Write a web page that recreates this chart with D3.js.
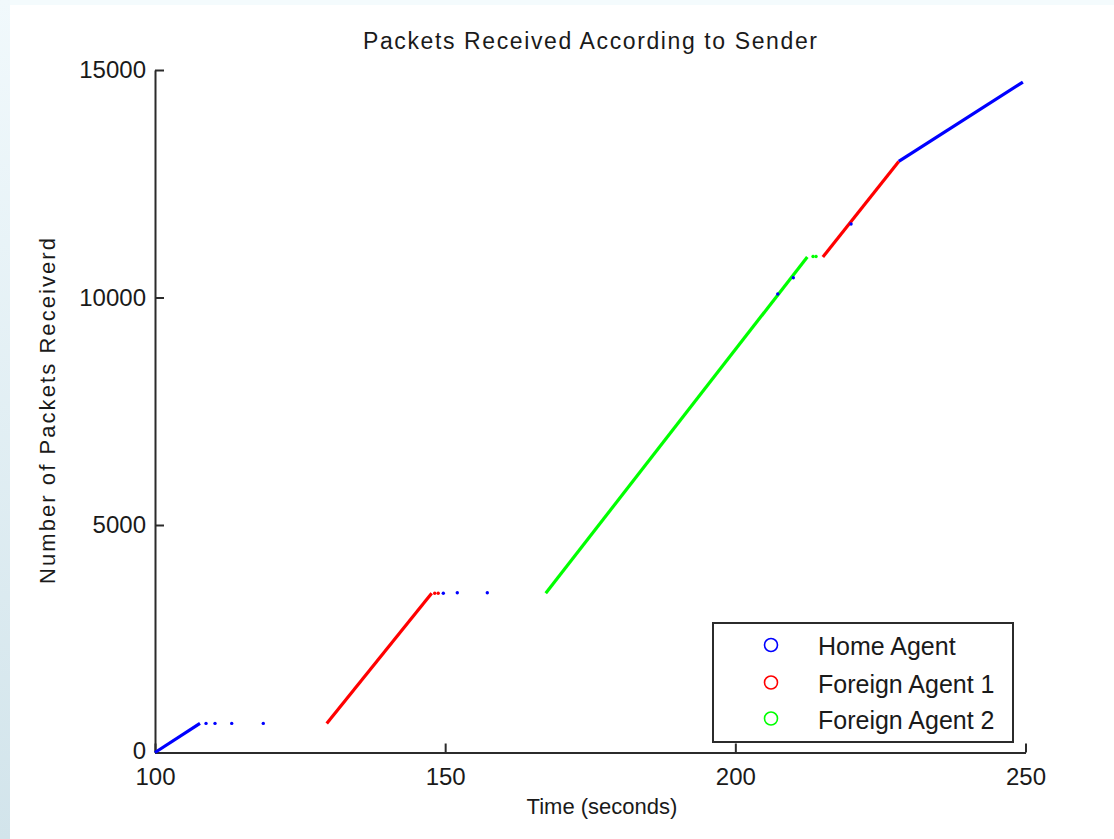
<!DOCTYPE html>
<html>
<head>
<meta charset="utf-8">
<script src="https://cdn.jsdelivr.net/npm/d3@7"></script>
<style>
  body { margin: 0; background: #ffffff; }
  svg text { font-family: "Liberation Sans", Arial, sans-serif; fill: #1a1a1a; }
</style>
</head>
<body>
<svg id="chart"></svg>
<script>
// tick values
const xTicks = [100, 150, 200, 250];
const yTicks = [0, 5000, 10000, 15000];

// series names and colours
const seriesNames = ["Home Agent", "Foreign Agent 1", "Foreign Agent 2"];
const seriesColors = ["#0000ff", "#ff0000", "#00ff00"];

// solid runs of packets, [time, packets]
const homeRun1 = [[100, 0], [107.75, 640]];
const homeRun2 = [[228.16, 12990], [249.55, 14735]];
const foreign1Run1 = [[129.59, 640], [147.68, 3499]];
const foreign1Run2 = [[215.08, 10889], [228.16, 12990]];
const foreign2Run1 = [[167.33, 3500], [212.40, 10889]];

// isolated packets
const homeDots = [[108.79, 640], [110.34, 640], [113.22, 640], [118.66, 640],
  [149.68, 3500], [152.09, 3510], [157.26, 3510],
  [207.31, 10077], [209.99, 10435], [219.94, 11615]];
const foreign1Dots = [[148.2, 3500], [148.8, 3500]];
const foreign2Dots = [[213.39, 10900], [213.91, 10900]];

const W = 1114, H = 839;
const margin = { left: 155, right: 88.5, top: 70, bottom: 86.5 };

const svg = d3.select("#chart").attr("width", W).attr("height", H);

// light blue frame of the slide
const defs = svg.append("defs");
const grad = defs.append("linearGradient").attr("id", "edge")
  .attr("x1", 0).attr("y1", 0).attr("x2", 0).attr("y2", 1);
grad.append("stop").attr("offset", "0%").attr("stop-color", "#f1f9fc");
grad.append("stop").attr("offset", "100%").attr("stop-color", "#d2e4eb");
svg.append("rect").attr("x", 0).attr("y", 0).attr("width", W).attr("height", 5).attr("fill", "#f4fbfd");
svg.append("rect").attr("x", 0).attr("y", 0).attr("width", 10).attr("height", H).attr("fill", "url(#edge)");

const x = d3.scaleLinear().domain([100, 250]).range([margin.left, W - margin.right]);
const y = d3.scaleLinear().domain([0, 15000]).range([H - margin.bottom, margin.top]);

// axes, ticks pointing inward
const xAxis = svg.append("g")
  .attr("transform", `translate(0,${H - margin.bottom})`)
  .call(d3.axisBottom(x).tickValues(xTicks).tickFormat(d3.format("d"))
    .tickSizeInner(-9).tickSizeOuter(0).tickPadding(15));
const yAxis = svg.append("g")
  .attr("transform", `translate(${margin.left},0)`)
  .call(d3.axisLeft(y).tickValues(yTicks).tickFormat(d3.format("d"))
    .tickSizeInner(-9).tickSizeOuter(0).tickPadding(9));

[xAxis, yAxis].forEach(g => {
  g.select(".domain").attr("stroke", "#2b2b2b").attr("stroke-width", 2);
  g.selectAll(".tick line").attr("stroke", "#2b2b2b").attr("stroke-width", 2);
  g.selectAll(".tick text")
    .style("font-family", '"Liberation Sans", Arial, sans-serif')
    .style("font-size", "24px")
    .attr("fill", "#1a1a1a");
});
yAxis.select(".tick text").attr("dy", "0.25em");

// runs drawn as thick lines
const line = d3.line().x(d => x(d[0])).y(d => y(d[1]));
const runs = [
  { data: homeRun1, c: 0 }, { data: homeRun2, c: 0 },
  { data: foreign1Run1, c: 1 }, { data: foreign1Run2, c: 1 },
  { data: foreign2Run1, c: 2 }
];
svg.selectAll(".run").data(runs).join("path")
  .attr("class", "run")
  .attr("d", d => line(d.data))
  .attr("fill", "none")
  .attr("stroke", d => seriesColors[d.c])
  .attr("stroke-width", 3.2);

const dots = [
  ...foreign2Dots.map(d => ({ p: d, c: 2 })),
  ...foreign1Dots.map(d => ({ p: d, c: 1 })),
  ...homeDots.map(d => ({ p: d, c: 0 }))
];
svg.selectAll(".dot").data(dots).join("circle")
  .attr("class", "dot")
  .attr("cx", d => x(d.p[0]))
  .attr("cy", d => y(d.p[1]))
  .attr("r", 1.7)
  .attr("fill", d => seriesColors[d.c]);

// title and labels
svg.append("text")
  .attr("x", 590).attr("y", 49)
  .attr("text-anchor", "middle")
  .attr("textLength", 454).attr("lengthAdjust", "spacing")
  .style("font-size", "23px")
  .text("Packets Received According to Sender");

svg.append("text")
  .attr("x", 602).attr("y", 814)
  .attr("text-anchor", "middle")
  .style("font-size", "22px")
  .text("Time (seconds)");

svg.append("text")
  .attr("transform", "translate(55,411) rotate(-90)")
  .attr("text-anchor", "middle")
  .attr("textLength", 346).attr("lengthAdjust", "spacing")
  .style("font-size", "22px")
  .text("Number of Packets Receiverd");

// legend
const legend = svg.append("g");
legend.append("rect")
  .attr("x", 713).attr("y", 623)
  .attr("width", 300).attr("height", 119)
  .attr("fill", "#ffffff")
  .attr("stroke", "#2b2b2b").attr("stroke-width", 2);
const rowY = [645, 682.5, 718.5];
const items = legend.selectAll(".item").data(seriesNames).join("g")
  .attr("class", "item")
  .attr("transform", (d, i) => `translate(0,${rowY[i]})`);
items.append("circle")
  .attr("cx", 771).attr("cy", 0).attr("r", 6.5)
  .attr("fill", "none")
  .attr("stroke", (d, i) => seriesColors[i])
  .attr("stroke-width", 1.6);
items.append("text")
  .attr("x", 818).attr("y", 10)
  .style("font-size", "25px")
  .text(d => d);
</script>
</body>
</html>
